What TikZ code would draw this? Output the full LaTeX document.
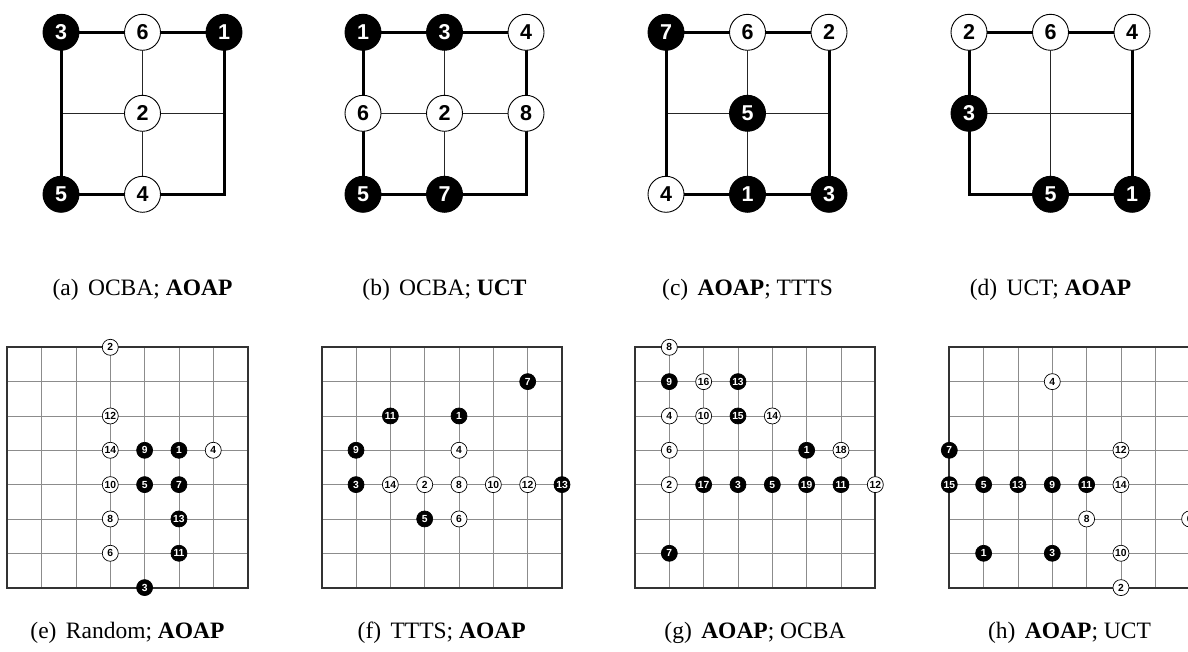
\documentclass[tikz,border=0pt]{standalone}
\usepackage{fontspec}
\setmainfont{Liberation Serif}
\newfontfamily\stonefont{Liberation Sans}
\begin{document}
\begin{tikzpicture}[x=1pt,y=-1pt,
  bigstone/.style={circle, inner sep=0pt, minimum size=36pt, line width=0.9pt, draw=black,
    font=\stonefont\bfseries\fontsize{21.5}{21.5}\selectfont},
  bw/.style={bigstone, fill=white, text=black},
  bb/.style={bigstone, fill=black, text=white},
  smallstone/.style={circle, inner sep=0pt, minimum size=16pt, line width=0.7pt, draw=black,
    font=\stonefont\bfseries\fontsize{10.3}{10.3}\selectfont},
  sw/.style={smallstone, fill=white, text=black},
  sb/.style={smallstone, fill=black, text=white},
  heavy/.style={line width=3pt},
  light/.style={line width=1pt, draw=black!85},
  gridline/.style={line width=0.9pt, draw=black!45},
  gridframe/.style={line width=1.8pt, draw=black!80},
  caption/.style={font=\fontsize{23.5}{28}\selectfont, anchor=base, inner sep=0pt}
]
\useasboundingbox[fill=white] (0,0) rectangle (1188,652);

% ---------- small 3x3 boards ----------
\def\hs{81.5}\def\vs{81}
% (a)
\begin{scope}[shift={(61,32.3)}]
  \draw[light] (\hs,0) -- (\hs,2*\vs);
  \draw[light] (0,\vs) -- (2*\hs,\vs);
  \draw[heavy] (0,0) rectangle (2*\hs,2*\vs);
  \node[bb] (a3) at (0,0) {3};
  \node[bw] (a6) at (\hs,0) {6};
  \node[bb] (a1) at (2*\hs,0) {1};
  \node[bw] (a2) at (\hs,\vs) {2};
  \node[bb] (a5) at (0,2*\vs) {5};
  \node[bw] (a4) at (\hs,2*\vs) {4};
\end{scope}
% (b)
\begin{scope}[shift={(363,32.3)}]
  \draw[light] (\hs,0) -- (\hs,2*\vs);
  \draw[light] (0,\vs) -- (2*\hs,\vs);
  \draw[heavy] (0,0) rectangle (2*\hs,2*\vs);
  \node[bb] (b1) at (0,0) {1};
  \node[bb] (b3) at (\hs,0) {3};
  \node[bw] (b4) at (2*\hs,0) {4};
  \node[bw] (b6) at (0,\vs) {6};
  \node[bw] (b2) at (\hs,\vs) {2};
  \node[bw] (b8) at (2*\hs,\vs) {8};
  \node[bb] (b5) at (0,2*\vs) {5};
  \node[bb] (b7) at (\hs,2*\vs) {7};
\end{scope}
% (c)
\begin{scope}[shift={(666,32.3)}]
  \draw[light] (\hs,0) -- (\hs,2*\vs);
  \draw[light] (0,\vs) -- (2*\hs,\vs);
  \draw[heavy] (0,0) rectangle (2*\hs,2*\vs);
  \node[bb] (c7) at (0,0) {7};
  \node[bw] (c6) at (\hs,0) {6};
  \node[bw] (c2) at (2*\hs,0) {2};
  \node[bb] (c5) at (\hs,\vs) {5};
  \node[bw] (c4) at (0,2*\vs) {4};
  \node[bb] (c1) at (\hs,2*\vs) {1};
  \node[bb] (c3) at (2*\hs,2*\vs) {3};
\end{scope}
% (d)
\begin{scope}[shift={(969,32.3)}]
  \draw[light] (\hs,0) -- (\hs,2*\vs);
  \draw[light] (0,\vs) -- (2*\hs,\vs);
  \draw[heavy] (0,0) rectangle (2*\hs,2*\vs);
  \node[bw] (d2) at (0,0) {2};
  \node[bw] (d6) at (\hs,0) {6};
  \node[bw] (d4) at (2*\hs,0) {4};
  \node[bb] (d3) at (0,\vs) {3};
  \node[bb] (d5) at (\hs,2*\vs) {5};
  \node[bb] (d1) at (2*\hs,2*\vs) {1};
\end{scope}

% ---------- large 8x8 boards ----------
\def\g{34.33}
\newcommand\largeboard{%
  \foreach \i in {1,...,6} {
    \draw[gridline] (\i*\g,0) -- (\i*\g,7*\g);
    \draw[gridline] (0,\i*\g) -- (7*\g,\i*\g);
  }
  \draw[gridframe] (0,0) rectangle (7*\g,7*\g);
}
% (e)
\begin{scope}[shift={(7.3,347.3)}]
  \largeboard
  \node[sw] (e2)  at (3*\g,0*\g) {2};
  \node[sw] (e12) at (3*\g,2*\g) {12};
  \node[sw] (e14) at (3*\g,3*\g) {14};
  \node[sb] (e9)  at (4*\g,3*\g) {9};
  \node[sb] (e1)  at (5*\g,3*\g) {1};
  \node[sw] (e4)  at (6*\g,3*\g) {4};
  \node[sw] (e10) at (3*\g,4*\g) {10};
  \node[sb] (e5)  at (4*\g,4*\g) {5};
  \node[sb] (e7)  at (5*\g,4*\g) {7};
  \node[sw] (e8)  at (3*\g,5*\g) {8};
  \node[sb] (e13) at (5*\g,5*\g) {13};
  \node[sw] (e6)  at (3*\g,6*\g) {6};
  \node[sb] (e11) at (5*\g,6*\g) {11};
  \node[sb] (e3)  at (4*\g,7*\g) {3};
\end{scope}
% (f)
\begin{scope}[shift={(321.7,347.3)}]
  \largeboard
  \node[sb] (f7)  at (6*\g,1*\g) {7};
  \node[sb] (f11) at (2*\g,2*\g) {11};
  \node[sb] (f1)  at (4*\g,2*\g) {1};
  \node[sb] (f9)  at (1*\g,3*\g) {9};
  \node[sw] (f4)  at (4*\g,3*\g) {4};
  \node[sb] (f3)  at (1*\g,4*\g) {3};
  \node[sw] (f14) at (2*\g,4*\g) {14};
  \node[sw] (f2)  at (3*\g,4*\g) {2};
  \node[sw] (f8)  at (4*\g,4*\g) {8};
  \node[sw] (f10) at (5*\g,4*\g) {10};
  \node[sw] (f12) at (6*\g,4*\g) {12};
  \node[sb] (f13) at (7*\g,4*\g) {13};
  \node[sb] (f5)  at (3*\g,5*\g) {5};
  \node[sw] (f6)  at (4*\g,5*\g) {6};
\end{scope}
% (g)
\begin{scope}[shift={(635,347.3)}]
  \largeboard
  \node[sw] (g8)  at (1*\g,0*\g) {8};
  \node[sb] (g9)  at (1*\g,1*\g) {9};
  \node[sw] (g16) at (2*\g,1*\g) {16};
  \node[sb] (g13) at (3*\g,1*\g) {13};
  \node[sw] (g4)  at (1*\g,2*\g) {4};
  \node[sw] (g10) at (2*\g,2*\g) {10};
  \node[sb] (g15) at (3*\g,2*\g) {15};
  \node[sw] (g14) at (4*\g,2*\g) {14};
  \node[sw] (g6)  at (1*\g,3*\g) {6};
  \node[sb] (g1)  at (5*\g,3*\g) {1};
  \node[sw] (g18) at (6*\g,3*\g) {18};
  \node[sw] (g2)  at (1*\g,4*\g) {2};
  \node[sb] (g17) at (2*\g,4*\g) {17};
  \node[sb] (g3)  at (3*\g,4*\g) {3};
  \node[sb] (g5)  at (4*\g,4*\g) {5};
  \node[sb] (g19) at (5*\g,4*\g) {19};
  \node[sb] (g11) at (6*\g,4*\g) {11};
  \node[sw] (g12) at (7*\g,4*\g) {12};
  \node[sb] (g7)  at (1*\g,6*\g) {7};
\end{scope}
% (h)
\begin{scope}[shift={(949.3,347.3)}]
  \largeboard
  \node[sw] (h4)  at (3*\g,1*\g) {4};
  \node[sb] (h7)  at (0*\g,3*\g) {7};
  \node[sw] (h12) at (5*\g,3*\g) {12};
  \node[sb] (h15) at (0*\g,4*\g) {15};
  \node[sb] (h5)  at (1*\g,4*\g) {5};
  \node[sb] (h13) at (2*\g,4*\g) {13};
  \node[sb] (h9)  at (3*\g,4*\g) {9};
  \node[sb] (h11) at (4*\g,4*\g) {11};
  \node[sw] (h14) at (5*\g,4*\g) {14};
  \node[sw] (h8)  at (4*\g,5*\g) {8};
  \node[sw] (h6)  at (7*\g,5*\g) {6};
  \node[sb] (h1)  at (1*\g,6*\g) {1};
  \node[sb] (h3)  at (3*\g,6*\g) {3};
  \node[sw] (h10) at (5*\g,6*\g) {10};
  \node[sw] (h2)  at (5*\g,7*\g) {2};
\end{scope}

% ---------- captions ----------
\node[caption] (capa) at (142.5,295) {(a)\hspace{0.4em}OCBA; \textbf{AOAP}};
\node[caption] (capb) at (444.5,295) {(b)\hspace{0.4em}OCBA; \textbf{UCT}};
\node[caption] (capc) at (747.5,295) {(c)\hspace{0.4em}\textbf{AOAP}; TTTS};
\node[caption] (capd) at (1050.5,295) {(d)\hspace{0.4em}UCT; \textbf{AOAP}};
\node[caption] (cape) at (127.5,638) {(e)\hspace{0.4em}Random; \textbf{AOAP}};
\node[caption] (capf) at (441.7,638) {(f)\hspace{0.4em}TTTS; \textbf{AOAP}};
\node[caption] (capg) at (755,638) {(g)\hspace{0.4em}\textbf{AOAP}; OCBA};
\node[caption] (caph) at (1069.5,638) {(h)\hspace{0.4em}\textbf{AOAP}; UCT};
\end{tikzpicture}
\end{document}
